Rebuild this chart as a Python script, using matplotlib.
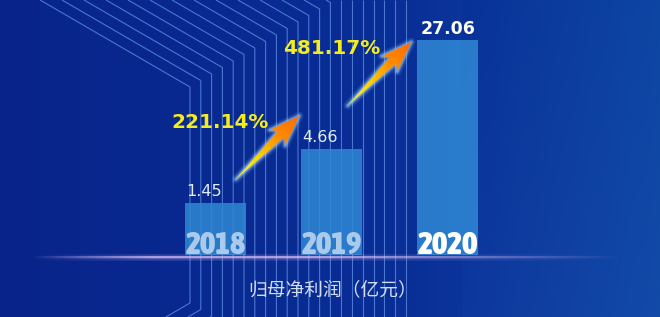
import numpy as np
import matplotlib
matplotlib.use('Agg')
import matplotlib.pyplot as plt
from matplotlib import font_manager as fm
from matplotlib.font_manager import FontProperties
from matplotlib.patches import Polygon
from matplotlib.colors import LinearSegmentedColormap
from matplotlib.collections import LineCollection

# ---------------- data ----------------
years = ['2018', '2019', '2020']
profit = [1.45, 4.66, 27.06]
growth = ['221.14%', '481.17%']
xlabel_text = '归母净利润（亿元）'

W, H = 660, 317
fig = plt.figure(figsize=(6.6, 3.17), dpi=100)

# ---------------- background ----------------
bg = fig.add_axes([0, 0, 1, 1], zorder=0)
bg.set_xlim(0, W); bg.set_ylim(H, 0); bg.axis('off')
xs = np.linspace(0, 1, W)[None, :]
ys = np.linspace(0, 1, H)[:, None]
c_left = np.array([8, 36, 138]) / 255
c_mid = np.array([9, 46, 150]) / 255
c_right = np.array([16, 72, 166]) / 255
t = np.clip(xs, 0, 1)
img = np.zeros((H, W, 3))
for k in range(3):
    a = np.where(t < 0.6, c_left[k] + (c_mid[k] - c_left[k]) * t / 0.6,
                 c_mid[k] + (c_right[k] - c_mid[k]) * (t - 0.6) / 0.4)
    img[:, :, k] = a + 0.02 * (ys - 0.5) * (t > 0.7)
bg.imshow(np.clip(img, 0, 1), extent=(0, W, H, 0), aspect='auto', zorder=0)

# decorative bent line bundle
segs = []
for i in range(21):
    xv = 190 + 10.8 * i
    ytop = 87 - 6.5 * i
    pts = []
    if ytop > 0:
        pts += [(xv - ytop / 0.58, 0), (xv, ytop)]
    else:
        pts += [(xv, 0)]
    yb = 303 + 6.5 * i
    if yb < H:
        pts += [(xv, yb), (xv - (H - yb) / 0.58, H)]
    else:
        pts += [(xv, H)]
    segs.append(pts)
bg.add_collection(LineCollection(segs, colors='#5f92e6', linewidths=0.8, alpha=0.75, zorder=1))

# ---------------- data axes ----------------
L_px, R_px, B_px, T_px = 157.5, 505.5, 62, 317
ax = fig.add_axes([L_px / W, B_px / H, (R_px - L_px) / W, (T_px - B_px) / H], zorder=1)
ax.patch.set_alpha(0)
c = 1.3
def fwd(y):
    with np.errstate(all='ignore'):
        return np.log((np.asarray(y, dtype=float) + c) / c)
def inv(z):
    return c * np.exp(np.asarray(z, dtype=float)) - c
ax.set_yscale('function', functions=(fwd, inv))
ax.set_xlim(-0.5, 2.5)
ax.set_ylim(0, float(inv(fwd(max(profit)) * 255 / 215)))
ax.axis('off')

xpos = np.arange(len(years))
bw = 0.52
ax.bar(xpos, profit, width=bw, color='#2f88d4', alpha=0.85, zorder=2)

# pick a condensed / narrow bold face for the year labels if one is installed
def pick_condensed():
    best = None
    for f in fm.fontManager.ttflist:
        nm = f.name.lower()
        st = str(f.stretch).lower()
        narrow = ('narrow' in nm or 'condensed' in nm or 'condensed' in st
                  or 'narrow' in st or (isinstance(f.stretch, int) and f.stretch < 500))
        w = f.weight if isinstance(f.weight, int) else (700 if 'bold' in str(f.weight).lower() else 400)
        if narrow and w >= 600 and f.style == 'normal':
            score = (0 if 'narrow' in nm or 'condensed' in nm else 1)
            if best is None or score < best[0]:
                best = (score, f.fname)
    return best[1] if best else None

cond = pick_condensed()
if cond:
    year_fp = FontProperties(fname=cond, size=23)
else:
    year_fp = FontProperties(family='DejaVu Sans', weight='bold', size=16)

for i, (yr, v) in enumerate(zip(years, profit)):
    last = i == len(years) - 1
    ax.annotate(yr, xy=(i, 0), xytext=(0, 1), textcoords='offset pixels',
                ha='center', va='baseline', fontproperties=year_fp,
                color='white' if last else '#c8dcf4', alpha=1 if last else 0.82, zorder=3)
    if last:
        ax.annotate(f'{v:.2f}', xy=(i, v), xytext=(1, 6), textcoords='offset pixels',
                    ha='center', va='baseline', fontsize=12.5, fontweight='bold',
                    color='white', zorder=3)
    else:
        ax.annotate(f'{v:.2f}', xy=(i - bw / 2, v), xytext=(1, 7), textcoords='offset pixels',
                    ha='left', va='baseline', fontsize=11.5, color='#e4ecf8', zorder=3)

fig.text(333 / W, 1 - 290 / H, xlabel_text, ha='center', va='center', fontsize=13.5,
         color='#d4dcf2', family=['Noto Sans CJK SC', 'DejaVu Sans'])

# ---------------- overlay (arrows, glow line) ----------------
ov = fig.add_axes([0, 0, 1, 1], zorder=2)
ov.set_xlim(0, W); ov.set_ylim(H, 0); ov.axis('off'); ov.patch.set_alpha(0)

def to_px(x, y):
    dx, dy = ax.transData.transform((x, y))
    return dx, H - dy

base_y = to_px(0, 0)[1] + 2
gx = np.linspace(30, 620, 300)
prof = np.clip(np.minimum((gx - 30) / 120, 1) * np.clip((620 - gx) / 300, 0, 1), 0, 1)
pts = np.array([[gx[:-1], np.full(len(gx) - 1, base_y)], [gx[1:], np.full(len(gx) - 1, base_y)]]).transpose(2, 0, 1)
for lw, al in [(5, 0.15), (2.5, 0.35), (1.2, 0.8)]:
    cols = [(0.82, 0.72, 0.95, al * p) for p in prof[:-1]]
    ov.add_collection(LineCollection(pts, colors=cols, linewidths=lw, zorder=1))

arrow_cmap = LinearSegmentedColormap.from_list('arr', ['#fff53a', '#ffd400', '#ff8c00', '#ff6a00'])
tip_offsets = [(-2, -33), (-6, 2)]
Lr = 90.0
d = np.array([1, -1]) / np.sqrt(2)
nrm = np.array([1, 1]) / np.sqrt(2)
shape = [(0, 0), (Lr - 26, -4.5), (Lr - 31, -11), (Lr, 0), (Lr - 31, 11), (Lr - 26, 4.5)]
for i in range(len(growth)):
    lx, ty = to_px(i + 1 - bw / 2, profit[i + 1])
    tip = np.array([lx + tip_offsets[i][0], ty + tip_offsets[i][1]])
    tail = tip - d * Lr
    poly = np.array([tail + d * u + nrm * v for u, v in shape])
    for lw, al in [(6, 0.12), (3.5, 0.25), (1.8, 0.45)]:
        ov.add_patch(Polygon(poly, closed=True, facecolor='none', edgecolor='#9fd6ff',
                             linewidth=lw, alpha=al, joinstyle='round', zorder=2))
    pp = Polygon(poly, closed=True, facecolor='none', edgecolor='none', zorder=3)
    ov.add_patch(pp)
    x0, x1 = poly[:, 0].min() - 2, poly[:, 0].max() + 2
    y0, y1 = poly[:, 1].min() - 2, poly[:, 1].max() + 2
    gxx, gyy = np.meshgrid(np.linspace(x0, x1, 120), np.linspace(y0, y1, 120))
    tt = ((gxx - tail[0]) * d[0] + (gyy - tail[1]) * d[1]) / Lr
    im = ov.imshow(np.clip(tt, 0, 1), extent=(x0, x1, y1, y0), cmap=arrow_cmap,
                   vmin=0, vmax=1, aspect='auto', zorder=3, interpolation='bilinear')
    im.set_clip_path(pp)
    ov.text(tail[0] - 16, tail[1] - 57, growth[i], ha='center', va='center',
            fontsize=14.4, fontweight='bold', color='#f4ec1c', zorder=4)

ov.set_xlim(0, W); ov.set_ylim(H, 0)
fig.savefig('out.png', dpi=100)
